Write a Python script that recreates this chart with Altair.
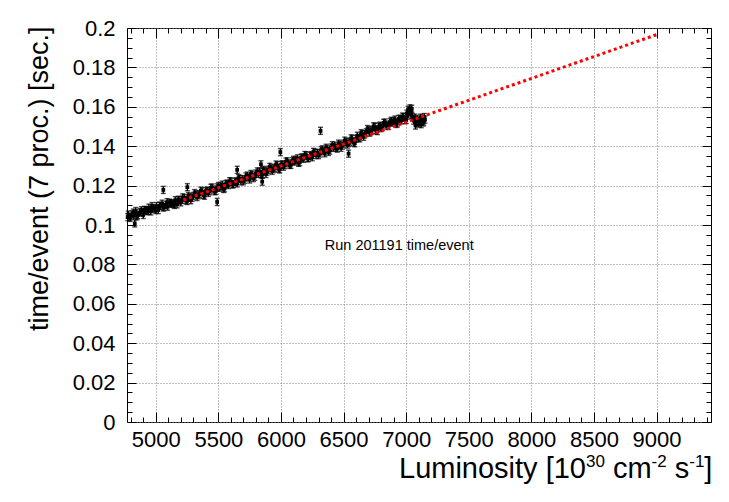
import altair as alt
import pandas as pd

# ---------------- data ----------------
LUMI_A = [4776, 4780, 4795, 4810, 4825, 4840, 4855, 4870, 4885, 4900, 4915,
          4930, 4945, 4960, 4975, 4990, 5005, 5020, 5035, 5050, 5065,
          5080, 5095, 5110, 5125, 5140, 5155, 5170, 5185, 5200, 5215]
TIME_A = [0.1040, 0.1053, 0.1036, 0.1054, 0.1048, 0.1071, 0.1050, 0.1063, 0.1075, 0.1051, 0.1076,
          0.1070, 0.1088, 0.1069, 0.1085, 0.1082, 0.1096, 0.1076, 0.1097, 0.1108, 0.1091,
          0.1101, 0.1093, 0.1113, 0.1111, 0.1106, 0.1126, 0.1105, 0.1124, 0.1115, 0.1140]

LUMI_A2 = [4790, 4820, 4850, 4880, 4910, 4940, 4970, 5000, 5030, 5060, 5090, 5120, 5150, 5180, 5210]
TIME_A2 = [0.1041, 0.1063, 0.1044, 0.1066, 0.1076, 0.1072, 0.1096, 0.1076, 0.1097, 0.1089,
           0.1116, 0.1108, 0.1102, 0.1128, 0.1128]

LUMI_B = [5230, 5250, 5270, 5290, 5310, 5330, 5350, 5370, 5390, 5410,
          5430, 5450, 5470, 5490, 5510, 5530, 5550, 5570, 5590, 5610,
          5630, 5650, 5670, 5690, 5710, 5730, 5750, 5770, 5790, 5810,
          5830, 5850, 5870, 5890, 5910, 5930, 5950, 5970, 5990, 6010,
          6030, 6050, 6070, 6090, 6110, 6130, 6150, 6170, 6190, 6210,
          6230, 6250, 6270, 6290, 6310, 6330, 6350, 6370, 6390, 6410,
          6430, 6450, 6470, 6490, 6510, 6530, 6550, 6570, 6590]
TIME_B = [0.1137, 0.1122, 0.1141, 0.1138, 0.1162, 0.1142, 0.1157, 0.1170, 0.1149, 0.1175,
          0.1171, 0.1190, 0.1172, 0.1191, 0.1189, 0.1205, 0.1186, 0.1210, 0.1222, 0.1206,
          0.1218, 0.1211, 0.1234, 0.1233, 0.1230, 0.1251, 0.1231, 0.1253, 0.1245, 0.1272,
          0.1270, 0.1255, 0.1274, 0.1271, 0.1295, 0.1275, 0.1290, 0.1303, 0.1282, 0.1308,
          0.1304, 0.1323, 0.1305, 0.1324, 0.1322, 0.1338, 0.1319, 0.1343, 0.1355, 0.1339,
          0.1351, 0.1344, 0.1367, 0.1366, 0.1363, 0.1384, 0.1364, 0.1386, 0.1378, 0.1405,
          0.1403, 0.1388, 0.1407, 0.1403, 0.1428, 0.1408, 0.1423, 0.1436, 0.1415]

LUMI_B2 = [5240, 5260, 5280, 5300, 5320, 5340, 5360, 5380, 5400, 5420,
           5440, 5460, 5480, 5500, 5520, 5540, 5560, 5580, 5600, 5620,
           5640, 5660, 5680, 5700, 5720, 5740, 5760, 5780, 5800, 5820,
           5840, 5860, 5880, 5900, 5920, 5940, 5960, 5980, 6000, 6020,
           6040, 6060, 6080, 6100, 6120, 6140, 6160, 6180, 6200, 6220,
           6240, 6260, 6280, 6300, 6320, 6340, 6360, 6380, 6400, 6420,
           6440, 6460, 6480, 6500, 6520, 6540, 6560, 6580, 6600]
TIME_B2 = [0.1125, 0.1147, 0.1126, 0.1147, 0.1156, 0.1151, 0.1174, 0.1152, 0.1172, 0.1163,
           0.1189, 0.1180, 0.1173, 0.1198, 0.1196, 0.1183, 0.1208, 0.1203, 0.1221, 0.1207,
           0.1222, 0.1238, 0.1222, 0.1222, 0.1246, 0.1241, 0.1259, 0.1238, 0.1261, 0.1260,
           0.1258, 0.1280, 0.1259, 0.1280, 0.1289, 0.1284, 0.1307, 0.1285, 0.1305, 0.1296,
           0.1322, 0.1313, 0.1306, 0.1331, 0.1329, 0.1316, 0.1341, 0.1336, 0.1354, 0.1340,
           0.1355, 0.1371, 0.1355, 0.1355, 0.1379, 0.1374, 0.1392, 0.1371, 0.1393, 0.1393,
           0.1391, 0.1413, 0.1392, 0.1413, 0.1422, 0.1416, 0.1440, 0.1418, 0.1438]

LUMI_C = [6610, 6630, 6650, 6670, 6690, 6710, 6730, 6750, 6770, 6790,
          6810, 6830, 6850, 6870, 6890, 6910, 6930, 6950, 6970, 6990]
TIME_C = [0.1453, 0.1440, 0.1461, 0.1460, 0.1487, 0.1469, 0.1484, 0.1498, 0.1477, 0.1504,
          0.1500, 0.1520, 0.1503, 0.1522, 0.1520, 0.1535, 0.1516, 0.1539, 0.1550, 0.1533]

LUMI_C2 = [6620, 6640, 6660, 6680, 6700, 6720, 6740, 6760, 6780, 6800,
           6820, 6840, 6860, 6880, 6900, 6920, 6940, 6960, 6980, 7000]
TIME_C2 = [0.1442, 0.1466, 0.1448, 0.1470, 0.1482, 0.1477, 0.1501, 0.1480, 0.1500, 0.1492,
           0.1518, 0.1510, 0.1503, 0.1529, 0.1527, 0.1513, 0.1538, 0.1531, 0.1548, 0.1533]

LUMI_D = [7005, 7010, 7015, 7025, 7030, 7035, 7040, 7045, 7050, 7060, 7070, 7075,
          7080, 7090, 7095, 7100, 7110, 7115, 7120, 7130, 7135, 7140, 7145, 7150]
TIME_D = [0.1565, 0.1555, 0.1585, 0.1575, 0.1592, 0.1578, 0.1560, 0.1590, 0.1548, 0.1530, 0.1545, 0.1505,
          0.1522, 0.1538, 0.1520, 0.1515, 0.1530, 0.1545, 0.1512, 0.1540, 0.1520, 0.1525, 0.1548, 0.1535]

LUMI_OUT = [4832, 5060, 5252, 5490, 5650, 5850, 5840, 5995, 6316, 6540]
TIME_OUT = [0.1008, 0.1178, 0.1192, 0.1117, 0.1280, 0.1220, 0.1308, 0.1370, 0.1478, 0.1362]

ERR = 0.0018  # half-length of the error bars

FIT_LUMI = [5220, 9000]
FIT_TIME = [0.1127, 0.1966]

ANNOT_TEXT = "Run 201191 time/event"
ANNOT_LUMI = 6350
ANNOT_TIME = 0.0873

X_TITLE_PARTS = ["Luminosity [10", "30", "cm", "-2", "s", "-1", "]"]
X_TITLE_SUPER = [False, True, False, True, False, True, False]
X_TITLE_SPACE_BEFORE = [False, False, True, False, True, False, False]

Y_TITLE = "time/event (7 proc.) [sec.]"

X_MAJOR = [5000, 5500, 6000, 6500, 7000, 7500, 8000, 8500, 9000]
X_MINOR = [4800, 4900, 5100, 5200, 5300, 5400, 5600, 5700, 5800, 5900,
           6100, 6200, 6300, 6400, 6600, 6700, 6800, 6900, 7100, 7200,
           7300, 7400, 7600, 7700, 7800, 7900, 8100, 8200, 8300, 8400,
           8600, 8700, 8800, 8900, 9100, 9200, 9300, 9400]
Y_MAJOR = [0, 0.02, 0.04, 0.06, 0.08, 0.1, 0.12, 0.14, 0.16, 0.18, 0.2]
Y_MINOR = [0.005, 0.01, 0.015, 0.025, 0.03, 0.035, 0.045, 0.05, 0.055,
           0.065, 0.07, 0.075, 0.085, 0.09, 0.095, 0.105, 0.11, 0.115,
           0.125, 0.13, 0.135, 0.145, 0.15, 0.155, 0.165, 0.17, 0.175,
           0.185, 0.19, 0.195]

X_DOMAIN = [4770, 9435]
Y_DOMAIN = [0, 0.2]

# ---------------- build ----------------
lumi = LUMI_A + LUMI_A2 + LUMI_B + LUMI_B2 + LUMI_C + LUMI_C2 + LUMI_D + LUMI_OUT
tval = TIME_A + TIME_A2 + TIME_B + TIME_B2 + TIME_C + TIME_C2 + TIME_D + TIME_OUT
df = pd.DataFrame({"lumi": lumi, "t": tval})
df["lo"] = df["t"] - ERR
df["hi"] = df["t"] + ERR

fit_df = pd.DataFrame({"lumi": FIT_LUMI, "t": FIT_TIME})
txt_df = pd.DataFrame({"lumi": [ANNOT_LUMI], "t": [ANNOT_TIME], "label": [ANNOT_TEXT]})

FONT = "Liberation Sans"
W, H = 584, 394
xs = alt.Scale(domain=X_DOMAIN, nice=False, zero=False)
ys = alt.Scale(domain=Y_DOMAIN, nice=False, zero=False)

main_x_axis = alt.Axis(
    orient="bottom", values=X_MAJOR, format="d", labelFontSize=22, labelPadding=7,
    ticks=False, tickSize=0, domain=False, grid=True, gridColor="#808080",
    gridDash=[1, 2], gridWidth=1, labelFlush=False, labelOverlap=False,
    title=None,
)
main_y_axis = alt.Axis(
    orient="left", values=Y_MAJOR, format="~g", labelFontSize=22, labelPadding=12,
    ticks=False, tickSize=0, domain=False, grid=True, gridColor="#808080",
    gridDash=[1, 2], gridWidth=1, labelFlush=False, labelOverlap=False,
    title=Y_TITLE, titleFontSize=27, titleFontWeight="normal",
    titleX=-80, titleY=-2, titleAlign="right", titleBaseline="alphabetic", titleAngle=270,
)

points = alt.Chart(df).mark_point(shape="square", filled=True, size=14, color="black", opacity=1).encode(
    x=alt.X("lumi:Q", scale=xs, axis=main_x_axis),
    y=alt.Y("t:Q", scale=ys, axis=main_y_axis),
)
errbars = alt.Chart(df).mark_rule(color="black", strokeWidth=1.4).encode(
    x=alt.X("lumi:Q", scale=xs, axis=None),
    y=alt.Y("lo:Q", scale=ys, axis=None),
    y2="hi:Q",
)
cap_lo = alt.Chart(df).mark_tick(color="black", orient="horizontal", size=5, thickness=1.4).encode(
    x=alt.X("lumi:Q", scale=xs, axis=None),
    y=alt.Y("lo:Q", scale=ys, axis=None),
)
cap_hi = alt.Chart(df).mark_tick(color="black", orient="horizontal", size=5, thickness=1.4).encode(
    x=alt.X("lumi:Q", scale=xs, axis=None),
    y=alt.Y("hi:Q", scale=ys, axis=None),
)
fit = alt.Chart(fit_df).mark_line(color="#ff0000", strokeWidth=3, strokeDash=[3, 3], strokeCap="butt").encode(
    x=alt.X("lumi:Q", scale=xs, axis=None),
    y=alt.Y("t:Q", scale=ys, axis=None),
)
annot = alt.Chart(txt_df).mark_text(align="left", baseline="alphabetic", fontSize=14.5, font=FONT, color="black").encode(
    x=alt.X("lumi:Q", scale=xs, axis=None),
    y=alt.Y("t:Q", scale=ys, axis=None),
    text="label:N",
)

# x-axis title with real superscripts, built from consecutive text pieces
MAIN_FS, SUP_FS = 29, 17
ADV = {"L": .556, "u": .556, "m": .833, "i": .222, "n": .556, "o": .556, "s": .5,
       "t": .278, "y": .5, " ": .278, "[": .278, "]": .278, "1": .556, "0": .556,
       "3": .556, "2": .556, "c": .5, "-": .333}
title_layers = []
cursor = 272
for part, sup, sp in zip(X_TITLE_PARTS, X_TITLE_SUPER, X_TITLE_SPACE_BEFORE):
    fs = SUP_FS if sup else MAIN_FS
    if sp:
        cursor += ADV[" "] * MAIN_FS
    base_y = H + 56 - (11 if sup else 0)
    title_layers.append(
        alt.Chart(pd.DataFrame({"label": [part]})).mark_text(
            align="left", baseline="alphabetic", fontSize=fs, font=FONT, color="black"
        ).encode(x=alt.value(cursor), y=alt.value(base_y), text="label:N")
    )
    cursor += sum(ADV[ch] for ch in part) * fs


def tick_axis(orient, values, size):
    return alt.Axis(orient=orient, values=values, labels=False, domain=False, grid=False,
                    ticks=True, tickSize=size, offset=-size, tickColor="black", tickWidth=1,
                    title=None)


def tick_layer(xo, xv, xsz, yo, yv, ysz):
    return alt.Chart(fit_df).mark_point(opacity=0).encode(
        x=alt.X("lumi:Q", scale=xs, axis=tick_axis(xo, xv, xsz)),
        y=alt.Y("t:Q", scale=ys, axis=tick_axis(yo, yv, ysz)),
    )


t1 = tick_layer("bottom", X_MAJOR, 10, "left", Y_MAJOR, 9)
t2 = tick_layer("bottom", X_MINOR, 5, "left", Y_MINOR, 5)
t3 = tick_layer("top", X_MAJOR, 10, "right", Y_MAJOR, 9)
t4 = tick_layer("top", X_MINOR, 5, "right", Y_MINOR, 5)

chart = alt.layer(points, errbars, cap_lo, cap_hi, fit, annot, *title_layers, t1, t2, t3, t4).resolve_axis(
    x="independent", y="independent"
).properties(
    width=W, height=H,
    padding={"left": 127, "top": 28, "right": 18, "bottom": 80},
    autosize=alt.AutoSizeParams(type="none"),
    background="white",
).configure_axis(
    labelFont=FONT, titleFont=FONT, labelColor="black", titleColor="black",
).configure_view(stroke="black", strokeWidth=1)

chart.save("out.html", embed_options={"renderer": "svg", "actions": False})
